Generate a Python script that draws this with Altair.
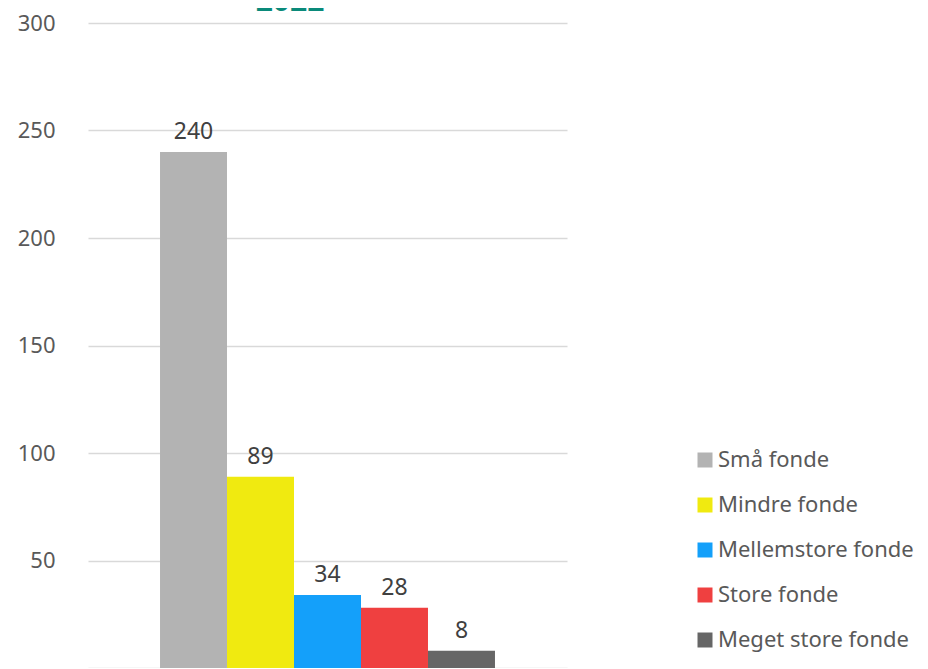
import altair as alt
import pandas as pd

categories = ["Små fonde", "Mindre fonde", "Mellemstore fonde", "Store fonde", "Meget store fonde"]
values = [240, 89, 34, 28, 8]
colors = ["#B3B3B3", "#F0EA10", "#14A0FA", "#EF4040", "#666666"]
y_ticks = [0, 50, 100, 150, 200, 250, 300]
title_text = "2022"
group = "2022"

df = pd.DataFrame({"gruppe": [group] * len(categories), "kategori": categories, "antal": values})

FONT = "Noto Sans"

x = alt.X("gruppe:N", axis=None,
          scale=alt.Scale(paddingInner=0, paddingOuter=0.215))
xo = alt.XOffset("kategori:N", sort=categories,
                 scale=alt.Scale(paddingInner=0, paddingOuter=0))
y = alt.Y("antal:Q", scale=alt.Scale(domain=[0, 300], nice=False),
          axis=alt.Axis(values=y_ticks, title=None, domain=False, ticks=False,
                        labelExpr="datum.value == 0 ? '' : datum.label",
                        labelFontSize=22, labelColor="#595959", labelFont=FONT,
                        labelPadding=33, gridColor="#D9D9D9", gridWidth=1.5))

bars = alt.Chart(df).mark_bar().encode(
    x=x, xOffset=xo, y=y,
    color=alt.Color("kategori:N", sort=categories,
                    scale=alt.Scale(domain=categories, range=colors),
                    legend=alt.Legend(title=None, orient="none", legendX=606, legendY=426,
                                      symbolType="square", symbolSize=225, symbolStrokeWidth=0,
                                      labelFontSize=22, labelColor="#595959", labelFont=FONT,
                                      labelLimit=0, rowPadding=23, labelOffset=2))
)

labels = alt.Chart(df).mark_text(baseline="alphabetic", dy=-13, fontSize=23,
                                 color="#404040", font=FONT).encode(
    x=x, xOffset=xo, y="antal:Q", text="antal:Q")

title = alt.Chart(pd.DataFrame({"t": [title_text]})).mark_text(
    fontSize=30, fontWeight="bold", color="#0A8A7A", font=FONT, baseline="alphabetic").encode(
    x=alt.value(202), y=alt.value(-12), text="t:N")

chart = alt.layer(bars, labels, title).properties(
    width=479, height=645,
    autosize=alt.AutoSizeParams(type="none"),
    padding={"left": 80, "top": 15, "right": 353, "bottom": 0},
).configure_view(stroke=None)

chart.save("out.html", embed_options={"renderer": "svg", "actions": False})
